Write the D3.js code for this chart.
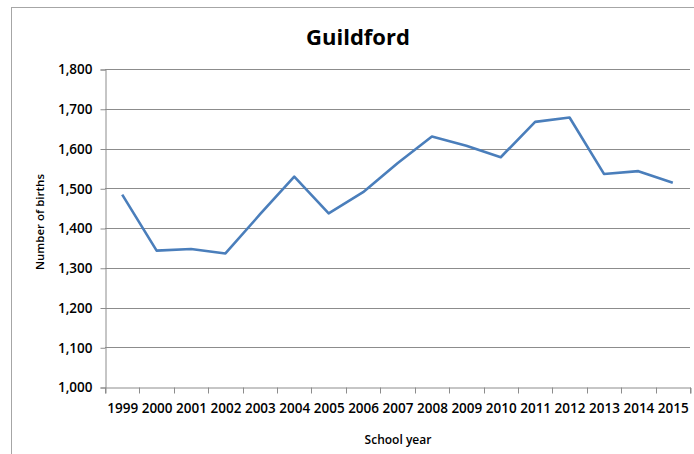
<!DOCTYPE html>
<html><head><meta charset="utf-8">
<script src="https://cdn.jsdelivr.net/npm/d3@7"></script>
<style>
html,body{margin:0;padding:0;background:#fff;}
svg{display:block;}
text{font-family:"Open Sans",sans-serif;fill:#000;}
</style></head>
<body>
<svg id="chart" width="694" height="454"></svg>
<script>
const title = "Guildford";
const years = ["1999","2000","2001","2002","2003","2004","2005","2006","2007","2008","2009","2010","2011","2012","2013","2014","2015"];
const births = [1484,1343,1347,1336,1434,1529,1437,1490,1563,1630,1607,1578,1667,1678,1536,1543,1514];
const yTicks = [1000,1100,1200,1300,1400,1500,1600,1700,1800];
const yTitle = "Number of births";
const xTitle = "School year";

const svg = d3.select("#chart");
const m = {left:105, right:690, top:69, bottom:387};

// chart area border
svg.append("rect").attr("x",11.5).attr("y",7.5).attr("width",720).attr("height",480)
  .attr("fill","#fff").attr("stroke","#a6a6a6").attr("stroke-width",1);

const x = d3.scaleBand().domain(years).range([m.left, m.right]);
const y = d3.scaleLinear().domain([1000,1800]).range([m.bottom, m.top]);

// gridlines
svg.append("g").selectAll("line").data(yTicks.slice(1)).join("line")
  .attr("x1",m.left).attr("x2",m.right)
  .attr("y1",d=>Math.round(y(d))+0.5).attr("y2",d=>Math.round(y(d))+0.5)
  .attr("stroke","#8c8c8c").attr("stroke-width",1);

// y axis
const yAxis = d3.axisLeft(y).tickValues(yTicks).tickSize(5).tickPadding(8).tickFormat(d3.format(","));
const gy = svg.append("g").attr("transform",`translate(${m.left+0.5},0.5)`).call(yAxis);
gy.select(".domain").attr("stroke","#8c8c8c");
gy.selectAll(".tick line").attr("stroke","#8c8c8c");
gy.selectAll("text").attr("font-family","Open Sans").attr("font-size",13.5).attr("font-weight",600).attr("fill","#000");

// x axis
const xAxis = d3.axisBottom(x).tickSize(6).tickPadding(10);
const gx = svg.append("g").attr("transform",`translate(0.5,${m.bottom+0.5})`).call(xAxis);
gx.select(".domain").attr("stroke","#8c8c8c");
gx.selectAll(".tick line").remove();
gx.append("g").selectAll("line").data(d3.range(years.length+1)).join("line")
  .attr("x1",i=>Math.round(m.left + i*x.step())).attr("x2",i=>Math.round(m.left + i*x.step()))
  .attr("y1",0).attr("y2",6).attr("stroke","#8c8c8c");
gx.selectAll("text").attr("font-family","Open Sans").attr("font-size",13.5).attr("font-weight",600).attr("fill","#000");

// line
const line = d3.line().x((d,i)=>x(years[i])+x.bandwidth()/2).y(d=>y(d));
svg.append("path").datum(births).attr("d",line)
  .attr("fill","none").attr("stroke","#4a7ebb").attr("stroke-width",2.6)
  .attr("stroke-linejoin","round").attr("stroke-linecap","butt");

// titles
svg.append("text").attr("x",358).attr("y",45).attr("text-anchor","middle")
  .attr("font-size",22).attr("font-weight",700).text(title);
svg.append("text").attr("transform","translate(44,222) rotate(-90)").attr("text-anchor","middle")
  .attr("font-size",11.5).attr("font-weight",600).text(yTitle);
svg.append("text").attr("x",398).attr("y",444).attr("text-anchor","middle")
  .attr("font-size",12).attr("font-weight",600).text(xTitle);
</script>
</body></html>
